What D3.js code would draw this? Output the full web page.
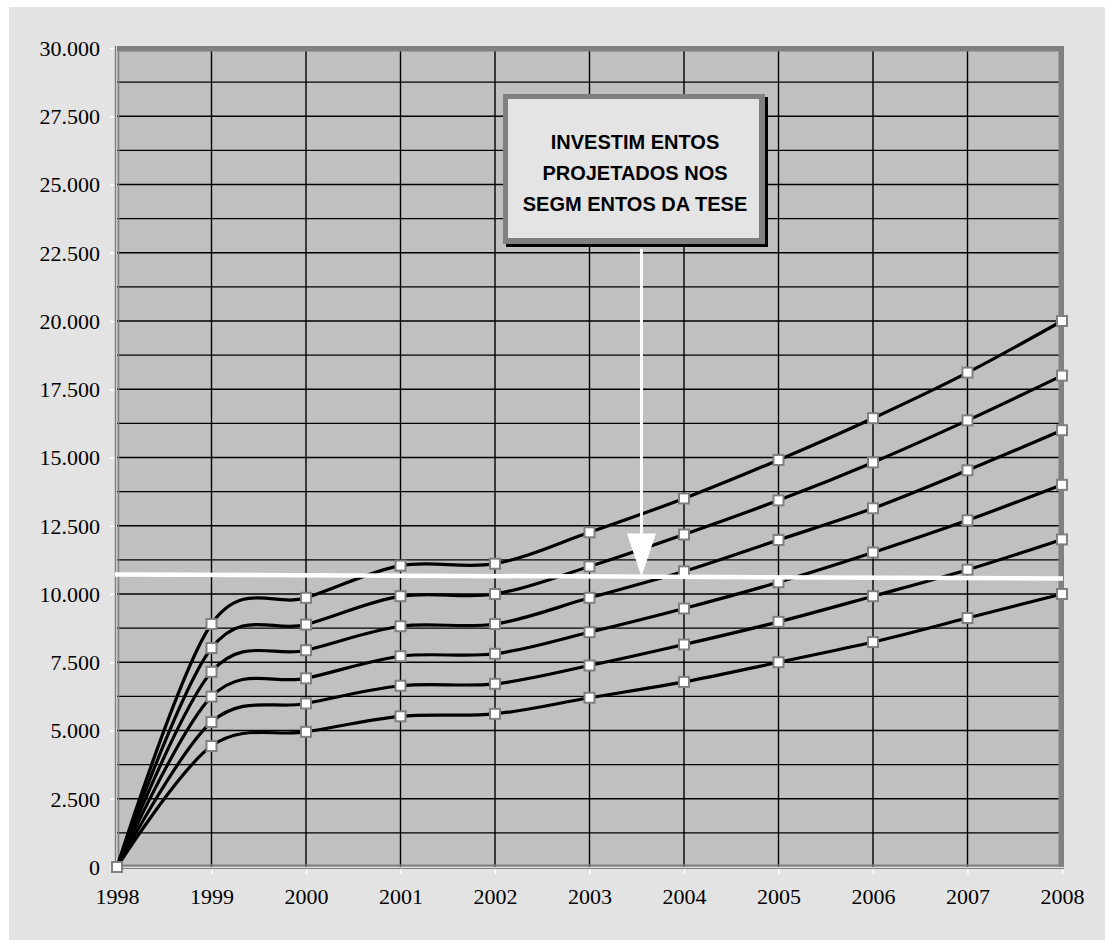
<!DOCTYPE html>
<html>
<head>
<meta charset="utf-8">
<script src="https://cdn.jsdelivr.net/npm/d3@7"></script>
<style>
  body { margin: 0; background: #fff; }
  svg { display: block; }
  .axis text { font-family: "Liberation Serif", "DejaVu Serif", serif; font-size: 22px; }
</style>
</head>
<body>
<div id="chart"></div>
<script>
const width = 1105;
const height = 940;
const plot = ({left: 117, right: 1062, top: 48, bottom: 867});

// data
const years = [1998, 1999, 2000, 2001, 2002, 2003, 2004, 2005, 2006, 2007, 2008];
const serie1 = [0, 4430, 4950, 5520, 5610, 6200, 6780, 7500, 8240, 9120, 10000];
const serie2 = [0, 5310, 5990, 6640, 6710, 7380, 8150, 8980, 9920, 10890, 12000];
const serie3 = [0, 6240, 6910, 7720, 7810, 8600, 9470, 10430, 11520, 12700, 14000];
const serie4 = [0, 7150, 7940, 8820, 8900, 9860, 10830, 11980, 13140, 14530, 16000];
const serie5 = [0, 8020, 8880, 9920, 10000, 11010, 12180, 13430, 14820, 16360, 18000];
const serie6 = [0, 8900, 9860, 11040, 11110, 12260, 13500, 14910, 16440, 18110, 20000];
const yTicks = [0, 2500, 5000, 7500, 10000, 12500, 15000, 17500, 20000, 22500, 25000, 27500, 30000];
const boxText = ["INVESTIM ENTOS", "PROJETADOS NOS", "SEGM ENTOS DA TESE"];
// the white horizontal line and the arrow (values in chart units)
const markLine = [{year: 1998, value: 10715}, {year: 2008, value: 10570}];
const arrowYear = 2003.55;
const arrowTip = 10640;

const series = [serie1, serie2, serie3, serie4, serie5, serie6];

const x = d3.scaleLinear().domain([1998, 2008]).range([plot.left, plot.right]);
const y = d3.scaleLinear().domain([0, 30000]).range([plot.bottom, plot.top]);

const ptBR = d3.formatLocale({decimal: ",", thousands: ".", grouping: [3], currency: ["R$", ""]});
const fmt = ptBR.format(",d");

const svg = d3.select("#chart").append("svg")
    .attr("width", width)
    .attr("height", height);

// outer panel
svg.append("rect")
    .attr("x", 9).attr("y", 7)
    .attr("width", width - 9).attr("height", height - 7)
    .attr("fill", "#e3e3e3");

// plot area
svg.append("rect")
    .attr("x", plot.left).attr("y", plot.top)
    .attr("width", plot.right - plot.left).attr("height", plot.bottom - plot.top)
    .attr("fill", "#c0c0c0");

// grid, horizontal every 1250
const hGrid = d3.range(1250, 30000, 1250);
svg.append("g")
  .selectAll("line")
  .data(hGrid)
  .enter().append("line")
    .attr("x1", plot.left).attr("x2", plot.right)
    .attr("y1", d => y(d)).attr("y2", d => y(d))
    .attr("stroke", "#000")
    .attr("stroke-width", 1.4);

svg.append("g")
  .selectAll("line")
  .data(years.slice(1, -1))
  .enter().append("line")
    .attr("x1", d => x(d)).attr("x2", d => x(d))
    .attr("y1", plot.top).attr("y2", plot.bottom)
    .attr("stroke", "#000")
    .attr("stroke-width", 1.4);

// top and right border (dark gray)
svg.append("rect")
    .attr("x", plot.left).attr("y", plot.top - 2)
    .attr("width", plot.right - plot.left + 2).attr("height", 5.5)
    .attr("fill", "#808080");
svg.append("rect")
    .attr("x", plot.right - 3.5).attr("y", plot.top - 2)
    .attr("width", 5.5).attr("height", plot.bottom - plot.top + 2)
    .attr("fill", "#808080");

// axes
const yAxis = d3.axisLeft(y).tickValues(yTicks).tickSize(6).tickFormat(fmt);
const xAxis = d3.axisBottom(x).tickValues(years).tickSize(6).tickFormat(d3.format("d"));

const gy = svg.append("g")
    .attr("class", "axis")
    .attr("transform", `translate(${plot.left - 1}, 0)`)
    .call(yAxis);
const gx = svg.append("g")
    .attr("class", "axis")
    .attr("transform", `translate(0, ${plot.bottom + 1})`)
    .call(xAxis);

[gx, gy].forEach(function(g) {
  g.attr("font-family", null).attr("font-size", null);
  g.select(".domain").remove();
  g.selectAll(".tick line").attr("stroke", "#fff").attr("stroke-width", 1.5);
  g.selectAll("text").attr("fill", "#000");
});
gy.selectAll("text").attr("x", -16).attr("dy", "0.34em");
gx.selectAll("text").attr("y", 20).attr("dy", "0.71em");

// axis lines: gray with a light inner line
svg.append("line")
    .attr("x1", plot.left - 1.5).attr("x2", plot.left - 1.5)
    .attr("y1", plot.top - 2).attr("y2", plot.bottom + 2)
    .attr("stroke", "#808080").attr("stroke-width", 1.5);
svg.append("line")
    .attr("x1", plot.left + 1.5).attr("x2", plot.left + 1.5)
    .attr("y1", plot.top + 3).attr("y2", plot.bottom)
    .attr("stroke", "#808080").attr("stroke-width", 1.5);
svg.append("line")
    .attr("x1", plot.left).attr("x2", plot.right + 2)
    .attr("y1", plot.bottom - 1.5).attr("y2", plot.bottom - 1.5)
    .attr("stroke", "#808080").attr("stroke-width", 1.8);
svg.append("line")
    .attr("x1", plot.left).attr("x2", plot.right + 2)
    .attr("y1", plot.bottom + 1.5).attr("y2", plot.bottom + 1.5)
    .attr("stroke", "#808080").attr("stroke-width", 1.2);

// series, smoothed like excel
const lineGenerator = d3.line()
    .x((d, i) => x(years[i]))
    .y(d => y(d))
    .curve(d3.curveCardinal.tension(0));

svg.append("g")
  .selectAll("path")
  .data(series)
  .enter().append("path")
    .attr("d", lineGenerator)
    .attr("fill", "none")
    .attr("stroke", "#000")
    .attr("stroke-width", 3.2);

// markers
const ms = 10;
series.forEach(function(s) {
  svg.append("g")
    .selectAll("rect")
    .data(s)
    .enter().append("rect")
      .attr("x", (d, i) => x(years[i]) - ms / 2)
      .attr("y", d => y(d) - ms / 2)
      .attr("width", ms).attr("height", ms)
      .attr("fill", "#fff")
      .attr("stroke", "#808080")
      .attr("stroke-width", 2);
});

// white reference line
svg.append("line")
    .attr("x1", x(markLine[0].year) - 2).attr("y1", y(markLine[0].value))
    .attr("x2", x(markLine[1].year) + 1).attr("y2", y(markLine[1].value))
    .attr("stroke", "#fff")
    .attr("stroke-width", 4.5);

// text box
const box = ({x: 503, y: 94, w: 262, h: 150});
svg.append("rect")
    .attr("x", box.x + 3).attr("y", box.y + 3)
    .attr("width", box.w).attr("height", box.h)
    .attr("fill", "#000");
svg.append("rect")
    .attr("x", box.x).attr("y", box.y)
    .attr("width", box.w).attr("height", box.h)
    .attr("fill", "#808080");
svg.append("rect")
    .attr("x", box.x + 5).attr("y", box.y + 5)
    .attr("width", box.w - 11).attr("height", box.h - 11)
    .attr("fill", "#e4e4e4");

svg.append("g")
  .selectAll("text")
  .data(boxText)
  .enter().append("text")
    .attr("x", box.x + box.w / 2 + 1)
    .attr("y", (d, i) => 149 + i * 31)
    .attr("text-anchor", "middle")
    .style("font-family", "'Liberation Sans', Arial, sans-serif")
    .style("font-weight", "bold")
    .style("font-size", "20px")
    .attr("fill", "#000")
    .text(d => d);

// arrow
const ax = x(arrowYear);
const tipY = y(arrowTip);
svg.append("line")
    .attr("x1", ax).attr("x2", ax)
    .attr("y1", box.y + box.h + 5).attr("y2", tipY - 38)
    .attr("stroke", "#fff")
    .attr("stroke-width", 3);
svg.append("path")
    .attr("d", `M${ax - 14.5},${tipY - 43} L${ax + 14.5},${tipY - 43} L${ax},${tipY} Z`)
    .attr("fill", "#fff");
</script>
</body>
</html>
